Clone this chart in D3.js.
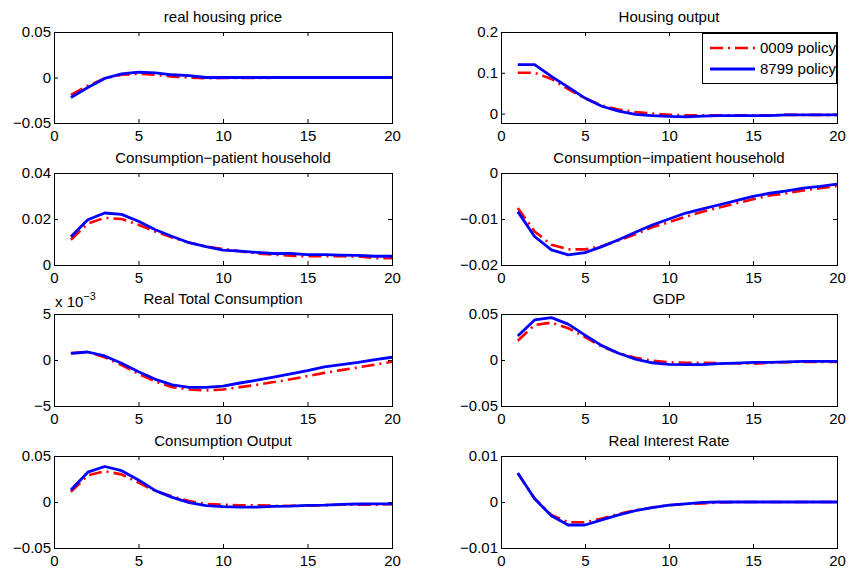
<!DOCTYPE html>
<html>
<head>
<meta charset="utf-8">
<script src="https://cdn.jsdelivr.net/npm/d3@7"></script>
<style>
  html, body { margin: 0; padding: 0; background: #fff; }
  svg { display: block; }
  text { font-family: "Liberation Sans", Arial, Helvetica, sans-serif; fill: #000; }
</style>
</head>
<body>
<svg id="fig" width="851" height="571"></svg>
<script>
// Impulse responses over 20 periods under two policy regimes.
const steps = [1, 2, 3, 4, 5, 6, 7, 8, 9, 10, 11, 12, 13, 14, 15, 16, 17, 18, 19, 20];
const seriesNames = ["0009 policy", "8799 policy"];

const panelTitles = [
  "real housing price",
  "Housing output",
  "Consumption\u2212patient household",
  "Consumption\u2212impatient household",
  "Real Total Consumption",
  "GDP",
  "Consumption Output",
  "Real Interest Rate"
];

// 0009 policy responses
const housingPrice0009 = [-0.019, -0.009, -0.001, 0.003, 0.004, 0.003, 0.001, 0.0, -0.001, -0.0005, -0.0005, -0.0005, -0.0003, -0.0003, -0.0002, -0.0002, -0.0001, -0.0001, 0.0, 0.0];
const housingOutput0009 = [0.100, 0.100, 0.085, 0.060, 0.037, 0.020, 0.010, 0.004, 0.000, -0.003, -0.004, -0.004, -0.004, -0.004, -0.004, -0.004, -0.003, -0.003, -0.003, -0.003];
const consPatient0009 = [0.011, 0.018, 0.0205, 0.020, 0.0175, 0.0145, 0.012, 0.0097, 0.008, 0.007, 0.006, 0.005, 0.0045, 0.004, 0.0038, 0.0038, 0.0038, 0.0037, 0.003, 0.003];
const consImpatient0009 = [-0.0076, -0.0127, -0.0156, -0.0166, -0.0166, -0.0159, -0.0147, -0.0133, -0.0118, -0.0107, -0.0095, -0.0084, -0.0075, -0.0066, -0.0057, -0.0049, -0.0044, -0.0038, -0.0033, -0.0028];
// Real total consumption is expressed in units of 1e-3
const totalCons0009 = [0.75, 0.85, 0.3, -0.55, -1.5, -2.35, -2.95, -3.2, -3.3, -3.2, -2.95, -2.7, -2.4, -2.1, -1.75, -1.4, -1.1, -0.8, -0.5, -0.2];
const gdp0009 = [0.021, 0.038, 0.0407, 0.0345, 0.025, 0.0145, 0.0073, 0.0025, -0.0007, -0.0025, -0.003, -0.003, -0.0035, -0.0035, -0.004, -0.003, -0.0025, -0.002, -0.002, -0.002];
const consOutput0009 = [0.011, 0.029, 0.0335, 0.030, 0.021, 0.012, 0.006, 0.001, -0.002, -0.003, -0.0035, -0.0035, -0.004, -0.004, -0.004, -0.0035, -0.003, -0.003, -0.003, -0.0025];
const interest0009 = [0.0062, 0.0008, -0.0028, -0.0044, -0.0044, -0.0036, -0.0026, -0.0018, -0.0012, -0.0007, -0.0004, -0.0003, -0.0001, 0.0, 0.0, 0.0, 0.0, 0.0, 0.0, 0.0];

// 8799 policy responses
const housingPrice8799 = [-0.022, -0.011, -0.001, 0.004, 0.006, 0.005, 0.003, 0.002, 0.0, 0.0, 0.0, 0.0, 0.0, 0.0, 0.0, 0.0, 0.0, 0.0, 0.0, 0.0];
const housingOutput8799 = [0.120, 0.120, 0.091, 0.065, 0.038, 0.018, 0.006, -0.002, -0.005, -0.007, -0.008, -0.006, -0.005, -0.005, -0.005, -0.005, -0.003, -0.003, -0.003, -0.003];
const consPatient8799 = [0.0123, 0.0197, 0.0226, 0.022, 0.019, 0.0153, 0.0124, 0.0097, 0.008, 0.0065, 0.006, 0.0055, 0.005, 0.005, 0.0045, 0.0045, 0.0043, 0.0042, 0.0038, 0.0038];
const consImpatient8799 = [-0.0084, -0.0138, -0.0167, -0.0178, -0.0173, -0.016, -0.0145, -0.0129, -0.0113, -0.010, -0.0087, -0.0078, -0.0069, -0.006, -0.0051, -0.0044, -0.0039, -0.0033, -0.0029, -0.0024];
const totalCons8799 = [0.73, 0.87, 0.44, -0.36, -1.27, -2.1, -2.7, -2.98, -2.98, -2.84, -2.5, -2.2, -1.85, -1.5, -1.15, -0.75, -0.5, -0.25, 0.05, 0.3];
const gdp8799 = [0.026, 0.0436, 0.046, 0.039, 0.027, 0.0156, 0.0073, 0.001, -0.003, -0.0047, -0.005, -0.005, -0.004, -0.0033, -0.0025, -0.0025, -0.002, -0.0015, -0.0015, -0.0015];
const consOutput8799 = [0.013, 0.0324, 0.0386, 0.034, 0.024, 0.0124, 0.005, -0.0007, -0.004, -0.005, -0.0055, -0.0055, -0.0047, -0.0044, -0.0036, -0.0033, -0.0025, -0.0022, -0.002, -0.002];
const interest8799 = [0.0063, 0.0007, -0.003, -0.005, -0.005, -0.0039, -0.0028, -0.0019, -0.0012, -0.0007, -0.0004, -0.0001, 0.0, 0.0, 0.0, 0.0, 0.0, 0.0, 0.0, 0.0];

const xLimits = [0, 20];
const xTicks = [0, 5, 10, 15, 20];
const yLimits = [[-0.05, 0.05], [-0.023, 0.2], [0, 0.04], [-0.02, 0], [-5, 5], [-0.05, 0.05], [-0.05, 0.05], [-0.01, 0.01]];
const yTicks = [[-0.05, 0, 0.05], [0, 0.1, 0.2], [0, 0.02, 0.04], [-0.02, -0.01, 0], [-5, 0, 5], [-0.05, 0, 0.05], [-0.05, 0, 0.05], [-0.01, 0, 0.01]];

const series0009 = [housingPrice0009, housingOutput0009, consPatient0009, consImpatient0009, totalCons0009, gdp0009, consOutput0009, interest0009];
const series8799 = [housingPrice8799, housingOutput8799, consPatient8799, consImpatient8799, totalCons8799, gdp8799, consOutput8799, interest8799];

// ---- layout ----
const colX = [[54, 392], [501, 837]];
const rowY = [[32, 123], [173, 265], [314, 406], [456, 548]];
const FONT = 15;
const TICK = 4;
const styles = [
  { color: "#ff0000", width: 2.6, dash: "13,5,2,5" },
  { color: "#0000ff", width: 2.8, dash: null }
];

const svg = d3.select("#fig");
const fmt = d => (d < 0 ? "\u2212" : "") + String(Math.abs(d));

panelTitles.forEach((title, i) => {
  const [x0, x1] = colX[i % 2];
  const [y0, y1] = rowY[Math.floor(i / 2)];
  const x = d3.scaleLinear().domain(xLimits).range([x0, x1]);
  const y = d3.scaleLinear().domain(yLimits[i]).range([y1, y0]);
  const g = svg.append("g");

  // bottom axis with labels, inward ticks
  const bottom = g.append("g").attr("transform", `translate(0,${y1})`)
    .call(d3.axisBottom(x).tickValues(xTicks).tickSize(-TICK).tickPadding(7).tickFormat(fmt));
  const left = g.append("g").attr("transform", `translate(${x0},0)`)
    .call(d3.axisLeft(y).tickValues(yTicks[i]).tickSize(-TICK).tickPadding(3).tickFormat(fmt));
  const top = g.append("g").attr("transform", `translate(0,${y0})`)
    .call(d3.axisTop(x).tickValues(xTicks).tickSize(-TICK).tickFormat(""));
  const right = g.append("g").attr("transform", `translate(${x1},0)`)
    .call(d3.axisRight(y).tickValues(yTicks[i]).tickSize(-TICK).tickFormat(""));
  [bottom, left, top, right].forEach(a => {
    a.select(".domain").remove();
    a.selectAll("line").attr("stroke", "#000").attr("stroke-width", 1);
    a.selectAll("text").attr("font-size", FONT).attr("fill", "#000")
      .style("font-family", '"Liberation Sans", Arial, sans-serif');
  });

  // plotted responses: 0009 first, 8799 drawn on top
  const line = d3.line().x((d, k) => x(steps[k])).y(d => y(d));
  [series0009[i], series8799[i]].forEach((vals, s) => {
    g.append("path").datum(vals)
      .attr("d", line)
      .attr("fill", "none")
      .attr("stroke", styles[s].color)
      .attr("stroke-width", styles[s].width)
      .attr("stroke-linejoin", "round")
      .attr("stroke-dasharray", styles[s].dash);
  });

  // axes box
  g.append("rect")
    .attr("x", x0 + 0.5).attr("y", y0 + 0.5)
    .attr("width", x1 - x0).attr("height", y1 - y0)
    .attr("fill", "none").attr("stroke", "#000").attr("stroke-width", 1);

  g.append("text")
    .attr("x", (x0 + x1) / 2).attr("y", y0 - 10)
    .attr("text-anchor", "middle").attr("font-size", FONT)
    .text(title);

  // exponent label for the scaled panel
  if (i === 4) {
    const ex = g.append("text").attr("x", x0 + 1).attr("y", y0 - 7).attr("font-size", FONT);
    ex.append("tspan").text("x 10");
    ex.append("tspan").attr("dy", -7).attr("font-size", FONT * 0.72).text("\u22123");
  }

  // legend in the housing output panel
  if (i === 1) {
    const lx = 702, ly = 33, lw = 134, lh = 50;
    const lg = g.append("g");
    lg.append("rect").attr("x", lx + 0.5).attr("y", ly + 0.5).attr("width", lw).attr("height", lh)
      .attr("fill", "#fff").attr("stroke", "#000").attr("stroke-width", 1);
    seriesNames.forEach((name, s) => {
      const cy = ly + 15 + s * 21;
      lg.append("line").attr("x1", lx + 8).attr("x2", lx + 53).attr("y1", cy).attr("y2", cy)
        .attr("stroke", styles[s].color).attr("stroke-width", styles[s].width)
        .attr("stroke-dasharray", styles[s].dash);
      lg.append("text").attr("x", lx + 58).attr("y", cy).attr("dy", "0.36em")
        .attr("font-size", FONT).text(name);
    });
  }
});
</script>
</body>
</html>
